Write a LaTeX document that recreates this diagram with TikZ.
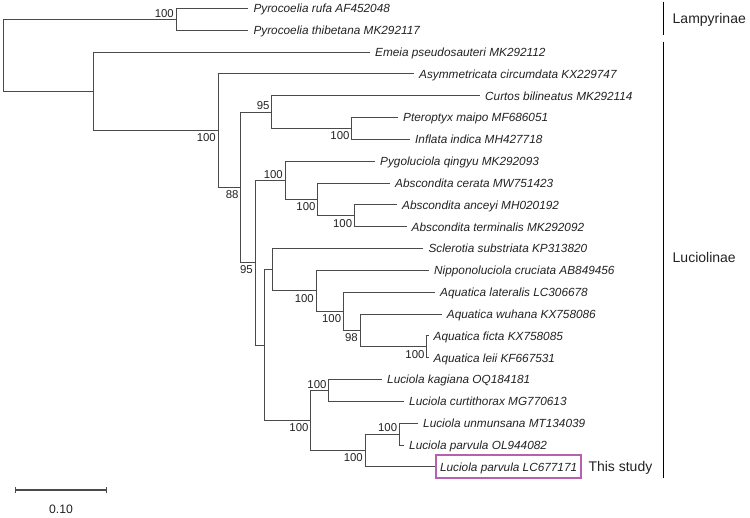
\documentclass[tikz,border=0pt]{standalone}
\usepackage{fontspec}
\setmainfont{Liberation Sans}
\definecolor{branch}{HTML}{4A4A4A}
\definecolor{boxmag}{RGB}{183,96,176}
\definecolor{txt}{HTML}{222222}
\tikzset{
  br/.style={draw=branch, line width=1pt},
  taxon/.style={anchor=west, inner xsep=0pt, inner ysep=0pt, xshift=5pt, text height=8.5pt, text depth=0pt,
    font=\fontsize{11.8}{13}\selectfont\itshape, text=txt},
  bs/.style={inner sep=0pt, font=\fontsize{11.4}{13}\selectfont, text=txt},
  bsup/.style={bs, anchor=south east, xshift=-2pt, yshift=2pt},
  bsdn/.style={bs, anchor=north east, xshift=-2pt, yshift=-3pt},
  grp/.style={anchor=west, inner sep=0pt, text height=10pt, text depth=0pt, font=\fontsize{14}{16}\selectfont, text=txt},
  grpbar/.style={draw=black, line width=1.8pt},
  studybox/.style={anchor=west, draw=boxmag, line width=2.2pt, inner xsep=4pt, minimum height=23pt,
    text height=8.5pt, text depth=0pt, font=\fontsize{11.8}{13}\selectfont\itshape, text=txt},
}
\begin{document}
\begin{tikzpicture}[x=1pt,y=-1pt]
\useasboundingbox (0,0) rectangle (750,518);
% internal nodes
\coordinate (root) at (3,55.5);
\coordinate (pyro) at (176,19.4);
\coordinate (A) at (93.3,91.5);
\coordinate (B) at (218,130.8);
\coordinate (C) at (240.7,187.5);
\coordinate (D) at (271.7,112.2);
\coordinate (E) at (351.7,128.6);
\coordinate (G) at (255,262.8);
\coordinate (H) at (285,180.4);
\coordinate (I) at (317.7,199.5);
\coordinate (J) at (354.3,215.9);
\coordinate (K) at (264,345.2);
\coordinate (L) at (272.7,269.8);
\coordinate (M) at (316,290.9);
\coordinate (N) at (343.3,311.4);
\coordinate (O) at (360,330.5);
\coordinate (P) at (426.7,346.85);
\coordinate (R) at (310.7,420.5);
\coordinate (S) at (328.7,390.5);
\coordinate (T) at (365,450.6);
\coordinate (U) at (399.3,434.2);
% tips
\coordinate (t1) at (248.3,8.5);
\coordinate (t2) at (248.3,30.3);
\coordinate (t3) at (370,52.2);
\coordinate (t4) at (414,74.0);
\coordinate (t5) at (480,95.8);
\coordinate (t6) at (398,117.7);
\coordinate (t7) at (410,139.5);
\coordinate (t8) at (375,161.3);
\coordinate (t9) at (390,183.1);
\coordinate (t10) at (397,205.0);
\coordinate (t11) at (406.5,226.8);
\coordinate (t12) at (423.3,248.6);
\coordinate (t13) at (429,270.5);
\coordinate (t14) at (435,292.3);
\coordinate (t15) at (441.7,314.1);
\coordinate (t16) at (428.5,335.9);
\coordinate (t17) at (428.5,357.8);
\coordinate (t18) at (382,379.6);
\coordinate (t19) at (404,401.4);
\coordinate (t20) at (418,423.3);
\coordinate (t21) at (404,445.1);
\coordinate (t22) at (435,466.9);
% branches
\foreach \p/\c in {root/pyro,root/A,pyro/t1,pyro/t2,A/t3,A/B,B/t4,B/C,C/D,C/G,D/t5,D/E,E/t6,E/t7,
  G/H,G/K,H/t8,H/I,I/t9,I/J,J/t10,J/t11,K/L,K/R,L/t12,L/M,M/t13,M/N,N/t14,N/O,O/t15,O/P,P/t16,P/t17,
  R/S,R/T,S/t18,S/t19,T/U,T/t22,U/t20,U/t21}
  \draw[br] (\p) |- (\c);
% taxa
\node[taxon] (l1) at (t1) {Pyrocoelia rufa AF452048};
\node[taxon] (l2) at (t2) {Pyrocoelia thibetana MK292117};
\node[taxon] (l3) at (t3) {Emeia pseudosauteri MK292112};
\node[taxon] (l4) at (t4) {Asymmetricata circumdata KX229747};
\node[taxon] (l5) at (t5) {Curtos bilineatus MK292114};
\node[taxon] (l6) at (t6) {Pteroptyx maipo MF686051};
\node[taxon] (l7) at (t7) {Inflata indica MH427718};
\node[taxon] (l8) at (t8) {Pygoluciola qingyu MK292093};
\node[taxon] (l9) at (t9) {Abscondita cerata MW751423};
\node[taxon] (l10) at (t10) {Abscondita anceyi MH020192};
\node[taxon] (l11) at (t11) {Abscondita terminalis MK292092};
\node[taxon] (l12) at (t12) {Sclerotia substriata KP313820};
\node[taxon] (l13) at (t13) {Nipponoluciola cruciata AB849456};
\node[taxon] (l14) at (t14) {Aquatica lateralis LC306678};
\node[taxon] (l15) at (t15) {Aquatica wuhana KX758086};
\node[taxon] (l16) at (t16) {Aquatica ficta KX758085};
\node[taxon] (l17) at (t17) {Aquatica leii KF667531};
\node[taxon] (l18) at (t18) {Luciola kagiana OQ184181};
\node[taxon] (l19) at (t19) {Luciola curtithorax MG770613};
\node[taxon] (l20) at (t20) {Luciola unmunsana MT134039};
\node[taxon] (l21) at (t21) {Luciola parvula OL944082};
\node[studybox] (l22) at (t22) {Luciola parvula LC677171};
\node[grp, xshift=6pt] (study) at (l22.east) {This study};
% bootstrap values
\node[bsup] (b1) at (pyro) {100};
\node[bsdn] (b2) at (B) {100};
\node[bsdn] (b3) at (C) {88};
\node[bsup] (b4) at (D) {95};
\node[bsdn] (b5) at (E) {100};
\node[bsdn] (b6) at (G) {95};
\node[bsup] (b7) at (H) {100};
\node[bsdn] (b8) at (I) {100};
\node[bsdn] (b9) at (J) {100};
\node[bsdn] (b10) at (M) {100};
\node[bsdn] (b11) at (N) {100};
\node[bsdn] (b12) at (O) {98};
\node[bsdn] (b13) at (P) {100};
\node[bsdn] (b14) at (R) {100};
\node[bsup] (b15) at (S) {100};
\node[bsdn] (b16) at (T) {100};
\node[bsup] (b17) at (U) {100};
% group bars
\coordinate (g1a) at (663.5,1.7);
\coordinate (g1b) at (663.5,35);
\coordinate (g2a) at (663.5,41.7);
\coordinate (g2b) at (663.5,478.3);
\draw[grpbar] (g1a) -- (g1b);
\draw[grpbar] (g2a) -- (g2b);
\node[grp] (lamp) at (672.5,18.3) {Lampyrinae};
\node[grp] (luci) at (672.5,257.7) {Luciolinae};
% scale bar
\coordinate (sb1) at (15.7,490);
\coordinate (sb2) at (106.7,490);
\draw[br] (sb1) -- (sb2);
\draw[br] ([yshift=2.5pt]sb1) -- ([yshift=-2.5pt]sb1);
\draw[br] ([yshift=2.5pt]sb2) -- ([yshift=-2.5pt]sb2);
\node[bs, font=\fontsize{12.2}{14}\selectfont] (sblab) at (61,509.3) {0.10};
\end{tikzpicture}
\end{document}
